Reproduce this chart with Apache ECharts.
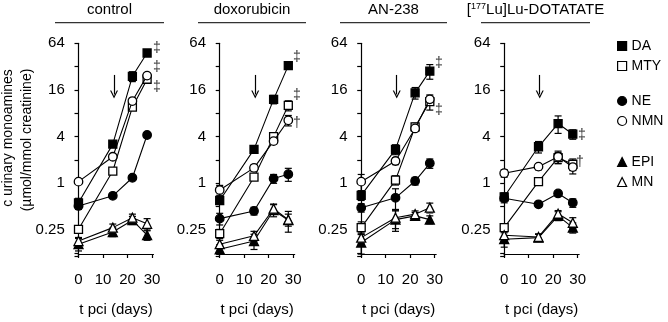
<!DOCTYPE html>
<html>
<head>
<meta charset="utf-8">
<script src="https://cdn.jsdelivr.net/npm/echarts@6/dist/echarts.min.js"></script>
<style>
  html, body { margin: 0; padding: 0; background: #fff; }
  #chart { width: 668px; height: 322px; }
</style>
</head>
<body>
<div id="chart"></div>
<script>
// sampling days (post cell injection)
const days = [0, 14, 22, 28];
const panelTitles = ['control', 'doxorubicin', 'AN-238', '[{sup|177}Lu]Lu-DOTATATE'];
const yTickLabels = [0.25, 1, 4, 16, 64];
const xTickLabels = [0, 10, 20, 30];

// one row per panel: control, doxorubicin, AN-238, Lu-DOTATATE
const DA = [
  [0.56, 3.2, 24, 48],
  [0.60, 2.74, 12.1, 33],
  [0.70, 2.74, 14.7, 28],
  [0.67, 2.96, 5.9, 4.3]
];
const MTY = [
  [0.255, 1.44, 9.6, 22],
  [0.224, 1.2, 4.0, 10.1],
  [0.268, 1.1, 5.36, 11.3],
  [0.268, 1.05, 2.14, 1.76]
];
const NE = [
  [0.51, 0.69, 1.18, 4.2],
  [0.35, 0.44, 1.15, 1.31],
  [0.485, 0.65, 1.07, 1.81],
  [0.64, 0.536, 0.74, 0.56]
];
const NMN = [
  [1.05, 2.2, 11.5, 24.5],
  [0.82, 1.58, 3.5, 6.5],
  [1.05, 1.94, 5.1, 12.1],
  [1.35, 1.64, 2.2, 1.62]
];
const EPI = [
  [0.164, 0.235, 0.334, 0.214],
  [0.141, 0.18, 0.45, 0.334],
  [0.172, 0.34, 0.38, 0.34],
  [0.19, 0.199, 0.38, 0.268]
];
const MN = [
  [0.18, 0.268, 0.36, 0.30],
  [0.164, 0.21, 0.47, 0.34],
  [0.199, 0.36, 0.40, 0.485],
  [0.214, 0.203, 0.405, 0.31]
];

// SEM
const DA_SEM = [[0.08, 0.2, 3.5, 3], [0.05, 0.3, 1.5, 3], [0.1, 0.4, 2.5, 6], [0.08, 0.5, 1.5, 0.6]];
const MTY_SEM = [[0.02, 0.1, 0.8, 2], [0.03, 0.1, 0.5, 1.5], [0.05, 0.15, 0.6, 2.5], [0.02, 0.1, 0.35, 0.3]];
const NE_SEM = [[0.05, 0.04, 0.08, 0.3], [0.06, 0.05, 0.15, 0.25], [0.06, 0.2, 0.12, 0.25], [0.08, 0.04, 0.05, 0.07]];
const NMN_SEM = [[0.08, 0.15, 1, 2], [0.12, 0.15, 0.3, 1], [0.25, 0.2, 0.4, 1.2], [0.15, 0.15, 0.4, 0.3]];
const EPI_SEM = [[0.03, 0.03, 0.04, 0.03], [0.02, 0.04, 0.08, 0.1], [0.05, 0.1, 0.04, 0.04], [0.04, 0.02, 0.05, 0.04]];
const MN_SEM = [[0.02, 0.03, 0.04, 0.05], [0.02, 0.03, 0.07, 0.06], [0.03, 0.1, 0.04, 0.07], [0.03, 0.02, 0.04, 0.05]];

// treatment arrow (day, from, to)
const ARROW_DAY = 14.5;
const ARROW_TOP = 25;
const ARROW_BOTTOM = 14;

const FONT = 'Liberation Sans, Arial, sans-serif';

const metabolites = [
  { name: 'DA', data: DA, sem: DA_SEM, symbol: 'rect', size: 8, fill: '#000' },
  { name: 'MTY', data: MTY, sem: MTY_SEM, symbol: 'rect', size: 8, fill: '#fff' },
  { name: 'NE', data: NE, sem: NE_SEM, symbol: 'circle', size: 8.5, fill: '#000' },
  { name: 'NMN', data: NMN, sem: NMN_SEM, symbol: 'circle', size: 8.5, fill: '#fff' },
  { name: 'EPI', data: EPI, sem: EPI_SEM, symbol: 'triangle', size: 9, fill: '#000' },
  { name: 'MN', data: MN, sem: MN_SEM, symbol: 'triangle', size: 9, fill: '#fff' }
];

// layout
const panelLeft = [67.8, 209, 350.5, 493.5];
const pxPerDay = 2.45;
const day0Gap = 10.7;
const xMax = 30.6;
const plotTop = 43.3;
const plotHeight = 213.4;
const titleLines = [[55, 164], [198, 306], [340, 447], [481, 590]];

const grids = [], xAxes = [], yAxes = [], series = [], titles = [], graphics = [];

panelTitles.forEach((t, p) => {
  const left = panelLeft[p];
  const width = day0Gap + xMax * pxPerDay;
  // data grid
  grids.push({ left: left, top: plotTop, width: width, height: plotHeight });
  // x axis grid (starts at day 0)
  grids.push({ left: left + day0Gap, top: plotTop, width: xMax * pxPerDay, height: plotHeight });

  xAxes.push({ gridIndex: 2 * p, type: 'value', min: -day0Gap / pxPerDay, max: xMax, show: false });
  xAxes.push({
    gridIndex: 2 * p + 1, type: 'value', min: 0, max: xMax, offset: 11,
    axisLine: { lineStyle: { color: '#000', width: 1.2 } },
    axisTick: { length: 4, lineStyle: { color: '#000', width: 1.2 }, customValues: xTickLabels },
    axisLabel: { customValues: xTickLabels, color: '#000', fontSize: 15, fontFamily: FONT, margin: 7 },
    splitLine: { show: false },
    name: 't pci (days)', nameLocation: 'middle', nameGap: 37,
    nameTextStyle: { color: '#000', fontSize: 15, fontFamily: FONT }
  });

  yAxes.push({
    gridIndex: 2 * p, type: 'log', logBase: 2, min: 0.113, max: 64,
    axisLine: { show: true, lineStyle: { color: '#000', width: 1.2 } },
    axisTick: { show: true, length: 4, lineStyle: { color: '#000', width: 1.2 } },
    axisLabel: {
      color: '#000', fontSize: 15, fontFamily: FONT, margin: 3,
      formatter: v => yTickLabels.some(t => Math.abs(t - v) < 1e-6) ? String(v) : ''
    },
    splitLine: { show: false }
  });
  yAxes.push({ gridIndex: 2 * p + 1, type: 'value', show: false });

  // error bars
  const errData = [];
  metabolites.forEach(m => {
    days.forEach((d, i) => {
      const v = m.data[p][i], s = m.sem[p][i];
      errData.push([d, Math.max(v - s, 0.114), v + s]);
    });
  });
  series.push({
    type: 'custom', xAxisIndex: 2 * p, yAxisIndex: 2 * p, z: 1, silent: true,
    data: errData,
    encode: { x: 0, y: [1, 2] },
    renderItem: (params, api) => {
      const x = api.value(0);
      const hi = api.coord([x, api.value(2)]);
      const lo = api.coord([x, api.value(1)]);
      const w = 3.5;
      const st = { stroke: '#000', lineWidth: 1.2 };
      return {
        type: 'group', children: [
          { type: 'line', shape: { x1: hi[0], y1: hi[1], x2: lo[0], y2: lo[1] }, style: st },
          { type: 'line', shape: { x1: hi[0] - w, y1: hi[1], x2: hi[0] + w, y2: hi[1] }, style: st },
          { type: 'line', shape: { x1: lo[0] - w, y1: lo[1], x2: lo[0] + w, y2: lo[1] }, style: st }
        ]
      };
    }
  });

  metabolites.forEach((m, k) => {
    const s = {
      name: m.name, type: 'line', xAxisIndex: 2 * p, yAxisIndex: 2 * p, z: 3 + k,
      data: days.map((d, i) => [d, m.data[p][i]]),
      symbol: m.symbol, symbolSize: m.size, showAllSymbol: true,
      lineStyle: { color: '#000', width: 1.1 },
      itemStyle: { color: m.fill, borderColor: '#000', borderWidth: 1.3 },
      emphasis: { disabled: true }
    };
    if (k === 0) {
      s.markLine = {
        silent: true, animation: false,
        symbol: ['none', 'path://M0,10 L5,0 L10,10 L8.4,10 L5,3.2 L1.6,10 Z'],
        symbolSize: [8, 8],
        lineStyle: { color: '#000', width: 1.2, type: 'solid' },
        label: { show: false },
        data: [[{ coord: [ARROW_DAY, ARROW_TOP] }, { coord: [ARROW_DAY, ARROW_BOTTOM] }]]
      };
    }
    series.push(s);
  });

  const tl = titleLines[p];
  titles.push({
    text: t, left: (tl[0] + tl[1]) / 2, top: 2, textAlign: 'center', padding: 0,
    textStyle: {
      color: '#000', fontSize: 15, fontWeight: 'normal', fontFamily: FONT,
      rich: { sup: { fontSize: 9, fontFamily: FONT, verticalAlign: 'top', color: '#000' } }
    }
  });
  graphics.push({
    type: 'line', shape: { x1: tl[0], y1: 22.7, x2: tl[1], y2: 22.7 },
    style: { stroke: '#333', lineWidth: 1.3 }
  });
});

// significance marks
const daggers = [
  ['‡', 157, 48], ['‡', 157, 67], ['‡', 157, 87],
  ['‡', 297, 57], ['‡', 297, 95], ['†', 297, 123],
  ['‡', 439, 63], ['‡', 439, 110],
  ['‡', 582, 135], ['†', 580, 162]
];
daggers.forEach(d => {
  graphics.push({
    type: 'text', x: d[1], y: d[2],
    style: { text: d[0], fill: '#333', font: '14px ' + FONT, align: 'center', verticalAlign: 'middle' }
  });
});

// y axis name
graphics.push({
  type: 'text', x: 8, y: 138, rotation: Math.PI / 2,
  style: { text: 'c urinary monoamines', fill: '#000', font: '14px ' + FONT, align: 'center', verticalAlign: 'middle' }
});
graphics.push({
  type: 'text', x: 27, y: 140, rotation: Math.PI / 2,
  style: { text: '(µmol/mmol creatinine)', fill: '#000', font: '14px ' + FONT, align: 'center', verticalAlign: 'middle' }
});

const legendGroups = [['DA', 'MTY'], ['NE', 'NMN'], ['EPI', 'MN']];
const legendTops = [39, 94, 155];
const iconOf = { DA: 'rect', MTY: 'rect', NE: 'circle', NMN: 'circle', EPI: 'triangle', MN: 'triangle' };
const legends = legendGroups.map((g, i) => ({
  orient: 'vertical', left: 617, top: legendTops[i], padding: 0,
  itemWidth: 9, itemHeight: 9, itemGap: 6,
  selectedMode: false,
  data: g.map(n => ({ name: n, icon: iconOf[n] })),
  itemStyle: { borderWidth: 1.2, borderColor: '#000' },
  textStyle: { color: '#000', fontSize: 14, fontFamily: FONT }
}));

const chart = echarts.init(document.getElementById('chart'));
chart.setOption({
  animation: false,
  backgroundColor: '#fff',
  title: titles,
  legend: legends,
  grid: grids,
  xAxis: xAxes,
  yAxis: yAxes,
  series: series,
  graphic: graphics
});
</script>
</body>
</html>
